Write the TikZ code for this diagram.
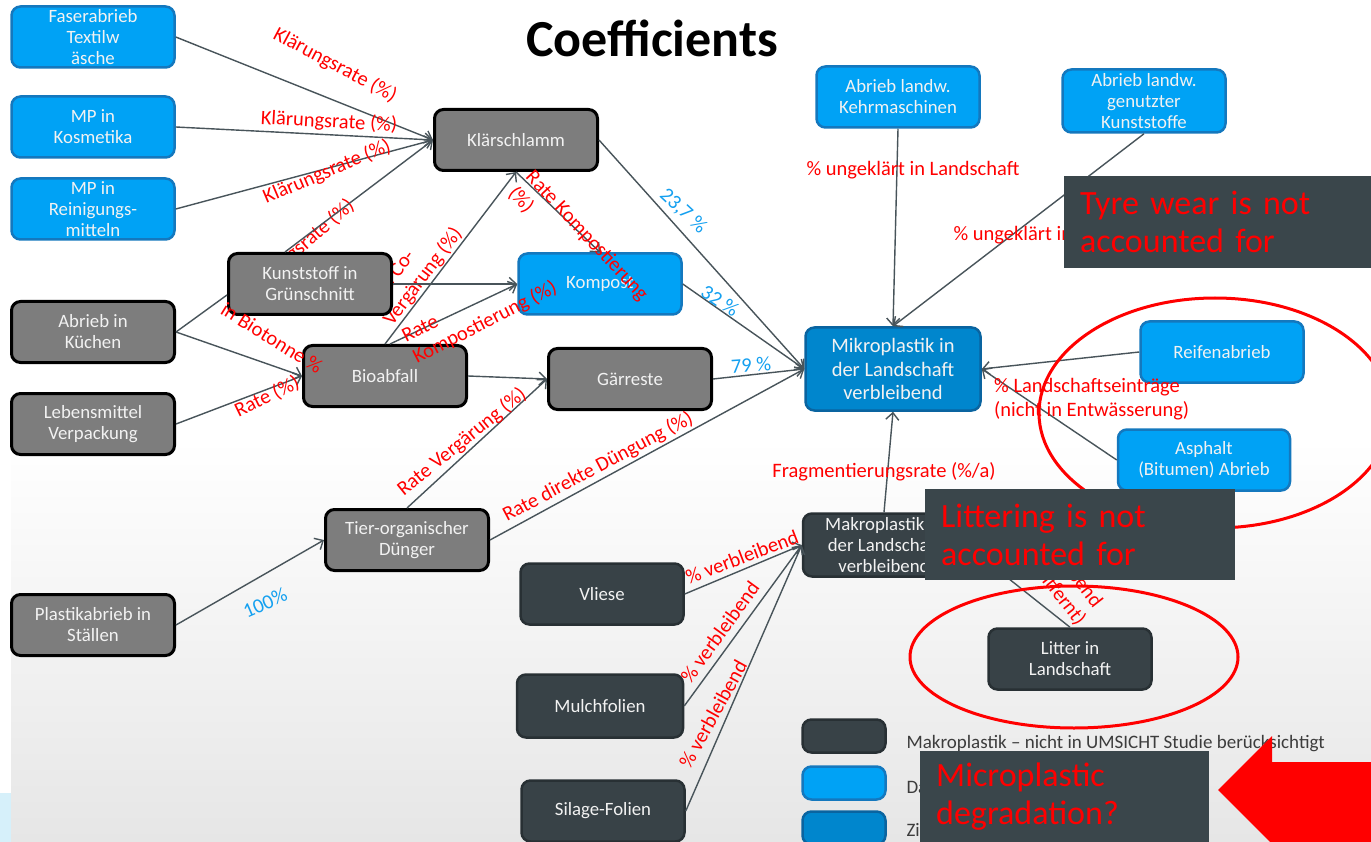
\documentclass[tikz,border=0pt]{standalone}
\usepackage{fontspec}
\setmainfont{Carlito}
\usetikzlibrary{arrows.meta}

\definecolor{datablue}{RGB}{0,162,245}
\definecolor{databorder}{RGB}{20,120,190}
\definecolor{goalblue}{RGB}{0,134,205}
\definecolor{goalborder}{RGB}{10,100,160}
\definecolor{boxgrey}{RGB}{125,125,125}
\definecolor{slate}{RGB}{56,66,71}
\definecolor{slateborder}{RGB}{40,48,52}
\definecolor{notebg}{RGB}{58,70,75}
\definecolor{linegrey}{RGB}{72,84,90}
\definecolor{pctblue}{RGB}{20,160,240}
\definecolor{legendtext}{RGB}{60,60,60}
\definecolor{bgbottom}{RGB}{230,230,230}
\definecolor{stripblue}{RGB}{214,240,250}

\tikzset{
  box/.style={rectangle, rounded corners=9pt, minimum width=163pt, minimum height=61pt,
    align=center, text=white!95!black, line width=2.5pt, inner sep=1pt,
    font=\fontsize{18.8}{21}\selectfont},
  lbl/.style={text=red, inner sep=0pt, font=\fontsize{20.5}{24}\selectfont},
  note/.style={fill=notebg, text=red, align=left, inner xsep=16pt, anchor=north west,
    font=\fontsize{34}{38}\selectfont},
}

\begin{document}
\begin{tikzpicture}[x=1pt,y=-1pt]
    \useasboundingbox (0,0) rectangle (1371,842);
    % slide background
    \fill[white] (0,0) rectangle (1371,842);
    \shade[top color=white, bottom color=bgbottom] (11,440) rectangle (1371,842);
    \fill[stripblue] (0,793) rectangle (11,842);

    \node[font=\fontsize{52}{60}\selectfont\bfseries] (title) at (652,38) {Coefficients};

    % labels lying under the boxes
    \node[lbl, rotate=41] (l4) at (300,248) {Klärungsrate (\%)};
    \node[lbl, rotate=53, align=left] (l5) at (414,270) {Rate Co-\\Vergärung (\%)};

    \begin{scope}[every node/.style={box, fill=datablue, draw=databorder}]
        \node (fas) at (93,37) {Faserabrieb\\Textilw\\äsche};
        \node (kos) at (93,127) {MP in\\Kosmetika};
        \node (rein) at (93,209) {MP in\\Reinigungs-\\mitteln};
        \node (kom) at (600,284) {Kompost};
        \node (keh) at (898,97) {Abrieb landw.\\Kehrmaschinen};
        \node[minimum height=63pt] (gen) at (1144,101) {Abrieb landw.\\genutzter\\Kunststoffe};
        \node (rei) at (1222,352) {Reifenabrieb};
        \node[minimum width=172pt] (asp) at (1204,460) {Asphalt\\(Bitumen) Abrieb};
    \end{scope}
    \begin{scope}[every node/.style={box, fill=boxgrey, draw=black, line width=3pt}]
        \node (klae) at (516,140) {Klärschlamm};
        \node (kgr) at (310,284) {Kunststoff in\\Grünschnitt};
        \node (kue) at (93,332) {Abrieb in\\Küchen};
        \node (bio) at (385,376) {Bioabfall};
        \node (gae) at (630,379) {Gärreste};
        \node (leb) at (93,424) {Lebensmittel\\Verpackung};
        \node (tier) at (407,540) {Tier-organischer\\Dünger};
        \node (pla) at (93,625) {Plastikabrieb in\\Ställen};
    \end{scope}
    \begin{scope}[every node/.style={box, fill=slate, draw=slateborder}]
        \node (vli) at (602,594) {Vliese};
        \node[minimum width=166pt, minimum height=63pt] (mul) at (600,706) {Mulchfolien};
        \node (sil) at (603,811) {Silage-Folien};
        \node[minimum width=162pt, minimum height=63pt] (mak) at (884,545) {Makroplastik in\\der Landschaft\\verbleibend};
        \node (lit) at (1070,659) {Litter in\\Landschaft};
    \end{scope}
    \node[box, fill=goalblue, draw=goalborder, minimum width=175pt, minimum height=83pt,
        font=\fontsize{20.5}{23.5}\selectfont] (mik) at (893,369) {Mikroplastik in\\der Landschaft\\verbleibend};

    \begin{scope}[>={Straight Barb[length=7pt,width=13pt]},
        every edge/.style={draw=linegrey, line width=1.4pt}]
        \path [->] (fas.east) edge (klae.west);
        \path [->] (kos.east) edge (klae.west);
        \path [->] (rein.east) edge (klae.west);
        \path [->] ([xshift=-25pt]kgr.north) edge (klae.west);
        \path [-] (kue.east) edge ([yshift=-11pt]kgr.west);
        \path [->] (kue.east) edge (bio.west);
        \path [->] (leb.east) edge (bio.west);
        \path [->] (bio.north) edge (klae.south);
        \path [->] ([xshift=5pt]bio.north) edge (kom.west);
        \path [->] (kgr.east) edge (kom.west);
        \path [->] (klae.south) edge (kom.north);
        \path [->] (bio.east) edge (gae.west);
        \path [->] (klae.east) edge (mik.west);
        \path [->] (kom.east) edge (mik.west);
        \path [->] (gae.east) edge (mik.west);
        \path [->] (tier.east) edge (mik.west);
        \path [->] (tier.north) edge (gae.west);
        \path [->] (pla.east) edge (tier.west);
        \path [->] (vli.east) edge (mak.west);
        \path [->] (mul.east) edge (mak.west);
        \path [->] (sil.east) edge (mak.west);
        \path [->] (mak.north) edge (mik.south);
        \path [->] (keh.south) edge (mik.north);
        \path [->] (gen.south) edge (mik.north);
        \path [->] (rei.west) edge (mik.east);
        \path [->] (asp.west) edge (mik.east);
        \path [->] (lit.north) edge (mak.east);
    \end{scope}

    \begin{scope}[every node/.style={lbl}]
        \node[rotate=-28] (l1) at (335,65) {Klärungsrate (\%)};
        \node[rotate=-3] (l2) at (329,122) {Klärungsrate (\%)};
        \node[rotate=23] (l3) at (327,172) {Klärungsrate (\%)};
        \node[rotate=-47, align=left] (l6) at (578,244) {Rate Kompostierung\\(\%)};
        \node[rotate=27, align=left] (l7) at (480,313) {Rate\\Kompostierung (\%)};
        \node[rotate=-32] (l8) at (272,338) {in Biotonne \%};
        \node[rotate=26] (l9) at (267,397) {Rate (\%)};
        \node[rotate=39] (l13) at (462,442) {Rate Vergärung (\%)};
        \node[rotate=28] (l14) at (598,467) {Rate direkte Düngung (\%)};
        \node[rotate=21] (l16) at (742,557) {\% verbleibend};
        \node[rotate=54] (l17) at (720,632) {\% verbleibend};
        \node[rotate=61] (l18) at (713,714) {\% verbleibend};
        \node (l19) at (884,472) {Fragmentierungsrate (\%/a)};
        \node (l20) at (913,170) {\% ungeklärt in Landschaft};
        \node (l21) at (1060,235) {\% ungeklärt in Landschaft};
        \node[align=left, anchor=west] (l22) at (994,399) {\% Landschaftseinträge\\(nicht in Entwässerung)};
        \node[rotate=-52, align=center] (l23) at (1052,566) {\% verbleibend\\(nicht entfernt)};
    \end{scope}
    \begin{scope}[every node/.style={lbl, text=pctblue}]
        \node[rotate=-43] (p1) at (683,211) {23,7 \%};
        \node[rotate=-33] (p2) at (720,301) {32 \%};
        \node[rotate=4] (p3) at (751,365) {79 \%};
        \node[rotate=24] (p4) at (265,603) {100\%};
    \end{scope}

    % legend
    \begin{scope}[every node/.style={box, minimum width=83pt, minimum height=33pt}]
        \node[fill=slate, draw=slateborder] (leg1) at (844,736) {};
        \node[fill=datablue, draw=databorder] (leg2) at (844,783) {};
        \node[fill=goalblue, draw=goalborder] (leg3) at (844,828) {};
    \end{scope}
    \begin{scope}[every node/.style={anchor=west, text=legendtext, font=\fontsize{19}{22}\selectfont}]
        \node (legt1) at (903,744) {Makroplastik – nicht in UMSICHT Studie berücksichtigt};
        \node (legt2) at (903,787) {Da};
        \node (legt3) at (903,830) {Zi};
    \end{scope}

    % red marks on top
    \draw[red, line width=3pt] (1215,413) ellipse [x radius=176pt, y radius=115pt];
    \draw[red, line width=3pt] (1074,657) ellipse [x radius=164pt, y radius=71pt];
    \node[note, text width=275pt, minimum height=92pt] (tyre) at (1064,176) {Tyre wear is not\\accounted for};
    \node[note, text width=278pt, minimum height=91pt] (litnote) at (925,489) {Littering is not\\accounted for};
    \node[note, text width=257pt, minimum height=91pt] (degnote) at (920,751) {Microplastic\\degradation?};
    \fill[red] (1218,790) -- (1272,736) -- (1272,762) -- (1371,762) -- (1371,842) -- (1270,842) -- cycle;

\end{tikzpicture}
\end{document}
